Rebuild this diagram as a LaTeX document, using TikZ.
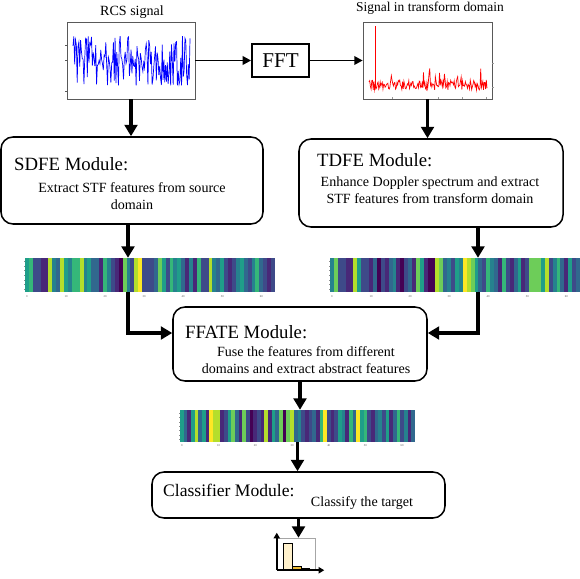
\documentclass[tikz,border=0pt]{standalone}
\usepackage{fontspec}
\setmainfont{Liberation Serif}
\usetikzlibrary{arrows.meta}

% viridis steps for the feature maps
\definecolor{v0}{RGB}{68,1,84}
\definecolor{v1}{RGB}{72,40,120}
\definecolor{v2}{RGB}{62,74,137}
\definecolor{v3}{RGB}{49,104,142}
\definecolor{v4}{RGB}{38,130,142}
\definecolor{v5}{RGB}{31,158,137}
\definecolor{v6}{RGB}{53,183,121}
\definecolor{v7}{RGB}{109,205,89}
\definecolor{v8}{RGB}{180,222,44}
\definecolor{v9}{RGB}{253,231,37}
\definecolor{cream}{RGB}{255,241,204}
\definecolor{barorange}{RGB}{236,186,52}

\newcommand{\heatstripes}[5]{%
    \foreach \c [count = \i from 0] in {#5}
        \fill[v\c] (#1 + \i*#3, #2) rectangle ++(#3 + 0.1, #4);}

\begin{document}
\begin{tikzpicture}[%
    x = 0.3mm, y = -0.3mm,
    module/.style = {draw, line width = 1.3pt, rounded corners = 3.6mm, inner sep = 0pt},
    heading/.style = {anchor = west, inner sep = 0pt, font = \fontsize{16}{19}\selectfont},
    body/.style = {align = center, inner sep = 0pt, font = \fontsize{12}{14.5}\selectfont},
    caption/.style = {inner sep = 0pt, font = \fontsize{12}{14}\selectfont},
    plotbox/.style = {draw = black!65, line width = 0.7pt, inner sep = 0pt, minimum height = 23.1mm},
    heat/.style = {inner sep = 0pt},
    ticklabel/.style = {inner sep = 0pt, font = \fontsize{2.5}{3}\selectfont, text = black!70},
    arr/.style = {line width = 2.7pt, -{Triangle[length = 3.4mm, width = 3.8mm]}},
    thinarr/.style = {line width = 1.3pt, -{Triangle[length = 2.5mm, width = 2.6mm]}},
    axisarr/.style = {line width = 1.3pt, -{Triangle[length = 1.7mm, width = 1.9mm]}}]

    \useasboundingbox (0, 0) rectangle (580, 578);

    % signal, FFT, spectrum
    \node[plotbox, minimum width = 38.4mm] (rcs) at (131, 60.5) {};
    \node[caption] (rcscap) at (132, 12) {RCS signal};
    \node[draw, line width = 1.7pt, minimum width = 17.1mm, minimum height = 9.9mm, inner sep = 0pt,
          font = \fontsize{18}{20}\selectfont] (fft) at (280.5, 60.5) {FFT};
    \node[plotbox, minimum width = 38.7mm] (tf) at (427.5, 60.5) {};
    \node[caption, font = \fontsize{11.5}{13}\selectfont] (tfcap) at (430, 8) {Signal in transform domain};

    \pgfmathsetseed{17}
    \draw[blue, line width = 0.6pt] plot[domain = 73:190, samples = 140] (\x, {61 + 25*rand});
    \draw[red, line width = 0.6pt] plot[domain = 369:487, samples = 170] (\x, {85 + 5*rand - 16*(rnd > 0.9)*rnd});
    \draw[red, line width = 0.6pt] (375, 86) -- (375, 26);
    \foreach \t in {45, 60, 91} \draw[black!65] (67, \t) -- (65, \t);
    \foreach \t in {63, 87} \draw[black!40] (492, \t) -- (494, \t);
    \foreach \t in {392, 438, 462, 486} \draw[black!40] (\t, 99) -- (\t, 97);

    % modules
    \node[module, minimum width = 78.6mm, minimum height = 26.1mm] (sdfe) at (132, 180.5) {};
    \node[heading] (sdfetitle) at (14, 164) {SDFE Module:};
    \node[body] (sdfetext) at (132, 196.5) {Extract STF features from source\\domain};

    \node[module, minimum width = 79.2mm, minimum height = 26.4mm] (tdfe) at (431, 183) {};
    \node[heading] (tdfetitle) at (317, 160) {TDFE Module:};
    \node[body] (tdfetext) at (430, 190) {Enhance Doppler spectrum and extract\\STF features from transform domain};

    \node[module, minimum width = 76.2mm, minimum height = 22.2mm] (ffate) at (300, 344) {};
    \node[heading] (ffatetitle) at (185, 332) {FFATE Module:};
    \node[body] (ffatetext) at (306, 360) {Fuse the features from different\\domains and extract abstract features};

    \node[module, minimum width = 87.9mm, minimum height = 13.8mm] (clf) at (298.5, 495) {};
    \node[heading, font = \fontsize{15}{18}\selectfont] (clftitle) at (163, 490) {Classifier Module:};
    \node[body] (clftext) at (362, 503) {Classify the target};

    % feature maps
    \node[heat, minimum width = 75mm, minimum height = 10.2mm] (hm1) at (150, 275) {};
    \heatstripes{25}{258}{3.906}{34}{5,6,2,2,1,1,8,4,3,8,5,4,6,6,8,4,5,3,3,1,6,4,2,1,0,7,4,2,8,9,2,2,
                                     2,3,7,5,2,6,4,5,3,1,4,1,6,2,2,8,4,3,5,2,1,2,4,5,3,2,4,6,3,2,1,2}
    \foreach \t in {0, 10, ..., 60} \node[ticklabel] (hma\t) at (25 + 3.906*\t + 1.95, 297) {\t};
    \foreach \r in {0, ..., 6} \draw[black!45, line width = 0.2pt] (25, 261 + 4.7*\r) -- ++(-1.2, 0);

    \node[heat, minimum width = 75mm, minimum height = 10.2mm] (hm2) at (455, 275) {};
    \heatstripes{330}{258}{3.906}{34}{4,7,2,2,1,1,8,5,2,2,1,3,0,2,1,3,4,1,0,2,3,1,7,5,1,0,0,8,7,3,4,2,
                                      5,4,9,8,7,5,3,2,6,4,3,1,6,2,1,3,5,1,2,7,7,7,5,8,2,4,6,3,1,5,2,3}
    \foreach \t in {0, 10, ..., 60} \node[ticklabel] (hmb\t) at (330 + 3.906*\t + 1.95, 297) {\t};
    \foreach \r in {0, ..., 6} \draw[black!45, line width = 0.2pt] (330, 261 + 4.7*\r) -- ++(-1.2, 0);

    \node[heat, minimum width = 70.5mm, minimum height = 9.6mm] (hm3) at (297.5, 426) {};
    \heatstripes{180}{410}{3.672}{32}{5,3,1,5,8,3,5,1,9,8,8,1,2,5,7,3,1,7,2,0,1,2,1,8,1,5,3,7,0,7,8,3,
                                      4,2,1,2,3,1,6,9,2,1,2,5,4,1,6,3,9,5,6,2,1,3,4,2,5,1,3,6,2,4,1,3}
    \foreach \t in {0, 10, ..., 60} \node[ticklabel] (hmc\t) at (180 + 3.672*\t + 1.84, 446) {\t};
    \foreach \r in {0, ..., 6} \draw[black!45, line width = 0.2pt] (180, 413 + 4.4*\r) -- ++(-1.2, 0);

    % output histogram
    \node[draw = black!35, line width = 0.4pt, minimum width = 11.4mm, minimum height = 9.6mm, inner sep = 0pt] (chart) at (296, 554) {};
    \filldraw[fill = cream, line width = 0.8pt] (283, 543) rectangle (292, 570);
    \filldraw[fill = barorange, line width = 0.5pt] (292, 566) rectangle (301, 570);
    \filldraw[fill = barorange!75!black, line width = 0.5pt] (301, 568) rectangle (309, 570);
    \draw[axisarr] (chart.south west) -- ([yshift = 1.5mm]chart.north west);
    \draw[axisarr] (chart.south west) -- ([xshift = 2.7mm]chart.south east);

    % connectors
    \coordinate (tap1) at (128, 0);
    \coordinate (tap2) at (478, 0);
    \coordinate (fuse) at (0, 333);

    \draw[arr] (rcs.south) -- (rcs.south |- sdfe.north);
    \draw[thinarr] (rcs.east) -- (fft.west);
    \draw[thinarr] (fft.east) -- (tf.west);
    \draw[arr] (tf.south) -- (tf.south |- tdfe.north);
    \draw[arr] (sdfe.south -| tap1) -- (hm1.north -| tap1);
    \draw[arr] (tdfe.south -| tap2) -- (hm2.north -| tap2);
    \draw[arr] (hm1.south -| tap1) |- (ffate.west |- fuse);
    \draw[arr] (hm2.south -| tap2) |- (ffate.east |- fuse);
    \draw[arr] (ffate.south) -- (ffate.south |- hm3.north);
    \draw[arr] (hm3.south) -- (hm3.south |- clf.north);
    \draw[arr] (clf.south) -- (clf.south |- chart.north);
\end{tikzpicture}
\end{document}
